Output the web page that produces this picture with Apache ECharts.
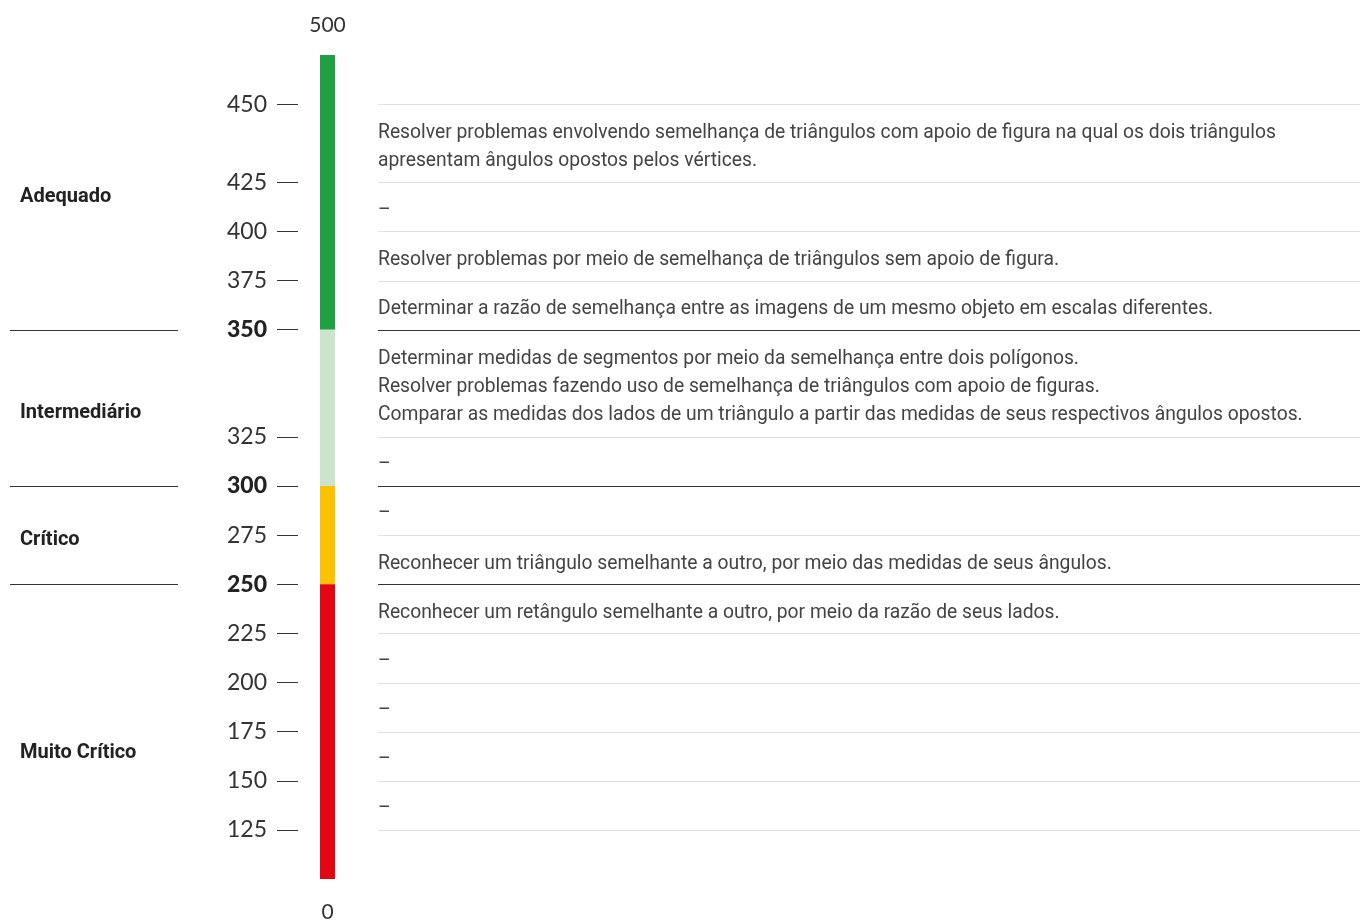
<!DOCTYPE html>
<html>
<head>
<meta charset="utf-8">
<script src="https://cdn.jsdelivr.net/npm/echarts@6/dist/echarts.min.js"></script>
<style>
  html, body { margin: 0; padding: 0; background: #fff; }
  #main { width: 1360px; height: 920px; }
</style>
</head>
<body>
<div id="main"></div>
<script>
// limites da escala (de cima para baixo)
const scoreMarks = [500, 450, 425, 400, 375, 350, 325, 300, 275, 250, 225, 200, 175, 150, 125, 0];
// descritores de cada faixa (entre dois limites consecutivos)
const descriptors = [
  [],
  ['Resolver problemas envolvendo semelhança de triângulos com apoio de figura na qual os dois triângulos',
   'apresentam ângulos opostos pelos vértices.'],
  ['–'],
  ['Resolver problemas por meio de semelhança de triângulos sem apoio de figura.'],
  ['Determinar a razão de semelhança entre as imagens de um mesmo objeto em escalas diferentes.'],
  ['Determinar medidas de segmentos por meio da semelhança entre dois polígonos.',
   'Resolver problemas fazendo uso de semelhança de triângulos com apoio de figuras.',
   'Comparar as medidas dos lados de um triângulo a partir das medidas de seus respectivos ângulos opostos.'],
  ['–'],
  ['–'],
  ['Reconhecer um triângulo semelhante a outro, por meio das medidas de seus ângulos.'],
  ['Reconhecer um retângulo semelhante a outro, por meio da razão de seus lados.'],
  ['–'],
  ['–'],
  ['–'],
  ['–'],
  []
];
// níveis de proficiência
const levelNames = ['Adequado', 'Intermediário', 'Crítico', 'Muito Crítico'];
const levelBounds = [500, 350, 300, 250, 0];
const levelColors = ['#1fa043', '#cbe5cd', '#fcc200', '#e30613'];

// posição vertical de cada limite (em "linhas de texto"): a altura da faixa depende do nº de linhas
const rowPad = 0.69;
const markPos = [0];
descriptors.forEach(function (lines, i) {
  markPos.push(markPos[i] + Math.max(lines.length, 1) + rowPad);
});
const totalPos = markPos[markPos.length - 1];
const posOf = function (score) { return markPos[scoreMarks.indexOf(score)]; };

const innerPos = markPos.slice(1, markPos.length - 1);
const boldScores = levelBounds.slice(1, levelBounds.length - 1);

const rowData = descriptors.map(function (lines, i) { return [0, markPos[i], markPos[i + 1], i]; });
const levelData = levelNames.map(function (n, i) {
  return [0, posOf(levelBounds[i]), posOf(levelBounds[i + 1]), i];
});

const crisp = function (v) { return Math.round(v) + 0.5; };
const textColor = '#333';
const barWidth = 15;

let myChart = echarts.init(document.getElementById('main'));
let option = {
  animation: false,
  grid: [
    { left: 298, width: 37, top: 55, bottom: 41 },
    { left: 378, right: 0, top: 55, bottom: 41 },
    { left: 10, width: 168, top: 55, bottom: 41 }
  ],
  xAxis: [0, 1, 2].map(function (g) {
    return { type: 'value', gridIndex: g, min: 0, max: 1, show: false };
  }),
  yAxis: [
    {
      type: 'value', gridIndex: 0, inverse: true, min: 0, max: totalPos,
      position: 'left',
      splitLine: { show: false },
      axisLine: { show: false },
      axisTick: {
        show: true, length: 21, customValues: innerPos,
        lineStyle: { color: '#333', width: 1 }
      },
      axisLabel: {
        show: true, margin: 31, customValues: innerPos,
        color: textColor, fontFamily: 'Lato', fontSize: 23,
        formatter: function (v) {
          let best = 0;
          markPos.forEach(function (p, i) {
            if (Math.abs(p - v) < Math.abs(markPos[best] - v)) best = i;
          });
          const s = scoreMarks[best];
          return boldScores.indexOf(s) >= 0 ? '{b|' + s + '}' : String(s);
        },
        rich: { b: { fontFamily: 'Lato', fontWeight: 900, fontSize: 23, color: '#222' } }
      }
    },
    { type: 'value', gridIndex: 1, inverse: true, min: 0, max: totalPos, show: false },
    { type: 'value', gridIndex: 2, inverse: true, min: 0, max: totalPos, show: false }
  ],
  series: [
    // barra colorida com os níveis
    {
      type: 'custom', xAxisIndex: 0, yAxisIndex: 0,
      encode: { x: 0, y: [1, 2] },
      data: levelData,
      renderItem: function (params, api) {
        const a = api.coord([0, api.value(1)]);
        const b = api.coord([1, api.value(2)]);
        const idx = api.value(3);
        const x0 = b[0] - barWidth;
        const children = [{
          type: 'rect',
          shape: { x: x0, y: a[1], width: barWidth, height: b[1] - a[1] },
          style: { fill: levelColors[idx] }
        }];
        if (idx === 0) {
          children.push({ type: 'text', style: {
            x: x0 + barWidth / 2, y: a[1] - 30, text: String(levelBounds[0]),
            align: 'center', verticalAlign: 'middle',
            fill: textColor, fontFamily: 'Lato', fontSize: 21 } });
        }
        if (idx === levelNames.length - 1) {
          children.push({ type: 'text', style: {
            x: x0 + barWidth / 2, y: b[1] + 33, text: String(levelBounds[levelBounds.length - 1]),
            align: 'center', verticalAlign: 'middle',
            fill: textColor, fontFamily: 'Lato', fontSize: 21 } });
        }
        return { type: 'group', children: children };
      }
    },
    // tabela de descritores
    {
      type: 'custom', xAxisIndex: 1, yAxisIndex: 1,
      encode: { x: 0, y: [1, 2] },
      data: rowData,
      renderItem: function (params, api) {
        const a = api.coord([0, api.value(1)]);
        const b = api.coord([1, api.value(2)]);
        const idx = api.value(3);
        const children = [];
        if (idx > 0) {
          const dark = boldScores.indexOf(scoreMarks[idx]) >= 0;
          children.push({ type: 'line',
            shape: { x1: a[0], y1: crisp(a[1]), x2: b[0], y2: crisp(a[1]) },
            style: { stroke: dark ? '#333' : '#e0e0e0', lineWidth: 1 } });
        }
        const lines = descriptors[idx];
        if (lines.length) {
          children.push({ type: 'text', style: {
            x: a[0], y: (a[1] + b[1]) / 2 + 4, text: lines.join('\n'),
            align: 'left', verticalAlign: 'middle', lineHeight: 28,
            fill: '#444', fontFamily: 'Roboto', fontSize: 19.3 } });
        }
        return { type: 'group', children: children };
      }
    },
    // nomes dos níveis à esquerda
    {
      type: 'custom', xAxisIndex: 2, yAxisIndex: 2,
      encode: { x: 0, y: [1, 2] },
      data: levelData,
      renderItem: function (params, api) {
        const a = api.coord([0, api.value(1)]);
        const b = api.coord([1, api.value(2)]);
        const idx = api.value(3);
        const last = idx === levelNames.length - 1;
        const children = [];
        if (idx > 0) {
          children.push({ type: 'line',
            shape: { x1: a[0], y1: crisp(a[1]), x2: b[0], y2: crisp(a[1]) },
            style: { stroke: '#333', lineWidth: 1 } });
        }
        // o último nível é centrado até o rótulo "0" abaixo da barra
        const bottom = last ? b[1] + 33 : b[1];
        children.push({ type: 'text', style: {
          x: a[0] + 10, y: (a[1] + bottom) / 2 + 5, text: levelNames[idx],
          align: 'left', verticalAlign: 'middle',
          fill: '#222', fontFamily: 'Roboto', fontWeight: 'bold', fontSize: 20 } });
        return { type: 'group', children: children };
      }
    }
  ]
};
option && myChart.setOption(option);
</script>
</body>
</html>
